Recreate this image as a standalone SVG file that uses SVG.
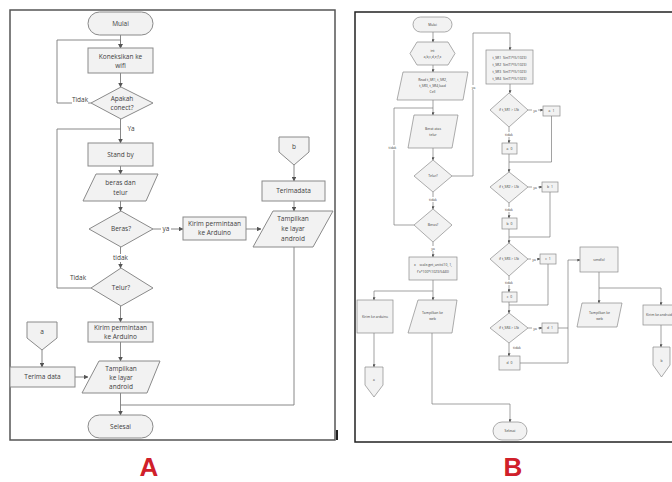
<svg xmlns="http://www.w3.org/2000/svg" width="672" height="482" viewBox="0 0 672 482">
<style>
.n{fill:#f2f2f2;stroke:#8a8a8a;stroke-width:1}
.nb{fill:#f2f2f2;stroke:#8a8a8a;stroke-width:0.7}
.c{fill:none;stroke:#7a7a7a;stroke-width:0.9}
.cb{fill:none;stroke:#7a7a7a;stroke-width:0.7}
.t{font-family:"Open Sans","Liberation Sans",sans-serif;font-size:6.5px;fill:#404040;text-anchor:middle}
.tb{font-family:"Open Sans","Liberation Sans",sans-serif;font-size:3.4px;fill:#404040;text-anchor:middle}
.lb{fill:#fff}
.big{font-family:"Liberation Sans",Arial,sans-serif;font-weight:bold;font-size:26px;fill:#d0202a;text-anchor:middle}
</style>
<defs>
<marker id="a" viewBox="0 0 10 10" refX="9" refY="5" markerWidth="4.5" markerHeight="4.5" markerUnits="userSpaceOnUse" orient="auto"><path d="M0,0 L10,5 L0,10 z" fill="#555"/></marker>
<marker id="ab" viewBox="0 0 10 10" refX="9" refY="5" markerWidth="3" markerHeight="3" markerUnits="userSpaceOnUse" orient="auto"><path d="M0,0 L10,5 L0,10 z" fill="#555"/></marker>
</defs>
<rect width="672" height="482" fill="#fff"/>
<!-- Frames -->
<rect x="10" y="10" width="325" height="430" fill="none" stroke="#555" stroke-width="1.5"/>
<rect x="336" y="430" width="2" height="10" fill="#222"/>
<rect x="355" y="12" width="330" height="430" fill="none" stroke="#222" stroke-width="1.5"/>

<!-- Connectors A -->
<g id="connectors-A">
<path class="c" d="M120.5,35 V48" marker-end="url(#a)"/>
<path class="c" d="M91,103 H57 V40 H120.5 V48" marker-end="url(#a)"/>
<path class="c" d="M120.5,73 V87" marker-end="url(#a)"/>
<path class="c" d="M120.5,119 V143" marker-end="url(#a)"/>
<path class="c" d="M91,288 H57 V129 H120.5"/>
<path class="c" d="M120.5,166 V174" marker-end="url(#a)"/>
<path class="c" d="M120.5,201 V211" marker-end="url(#a)"/>
<path class="c" d="M153,229 H183" marker-end="url(#a)"/>
<path class="c" d="M246,229 H261" marker-end="url(#a)"/>
<path class="c" d="M294,165 V181" marker-end="url(#a)"/>
<path class="c" d="M294,201 V211" marker-end="url(#a)"/>
<path class="c" d="M294,247 V405 H120.5"/>
<path class="c" d="M120.5,247 V268" marker-end="url(#a)"/>
<path class="c" d="M120.5,306 V322" marker-end="url(#a)"/>
<path class="c" d="M120.5,342 V361" marker-end="url(#a)"/>
<path class="c" d="M42,350 V367" marker-end="url(#a)"/>
<path class="c" d="M75,377 H88" marker-end="url(#a)"/>
<path class="c" d="M120.5,393 V415" marker-end="url(#a)"/>
<rect class="lb" x="72" y="96" width="16" height="8"/>
<text class="t" x="80" y="102">Tidak</text>
<text class="t" x="131" y="131">Ya</text>
<rect class="lb" x="161" y="225" width="10" height="8"/>
<text class="t" x="166" y="231">ya</text>
<rect class="lb" x="112" y="254" width="17" height="8"/>
<text class="t" x="120.5" y="260">tidak</text>
<text class="t" x="78" y="280">Tidak</text>
</g>

<!-- Nodes A -->
<g id="A-mulai"><rect class="n" x="88" y="12" width="65" height="23" rx="11.5"/><text class="t" x="120.5" y="26">Mulai</text></g>
<g id="A-wifi"><rect class="n" x="88" y="48" width="65" height="25"/><text class="t" x="120.5" y="59">Koneksikan ke</text><text class="t" x="120.5" y="68">wifi</text></g>
<g id="A-conect"><polygon class="n" points="121,87 153,103 121,119 91,103"/><text class="t" x="122" y="101">Apakah</text><text class="t" x="122" y="110">conect?</text></g>
<g id="A-standby"><rect class="n" x="88" y="143" width="65" height="23"/><text class="t" x="120.5" y="157">Stand by</text></g>
<g id="A-input"><polygon class="n" points="96,174 158,174 146,201 83,201"/><text class="t" x="120.5" y="185">beras dan</text><text class="t" x="120.5" y="195">telur</text></g>
<g id="A-beras"><polygon class="n" points="121,211 153,229 121,247 89,229"/><text class="t" x="121" y="231">Beras?</text></g>
<g id="A-kirim1"><rect class="n" x="183" y="217" width="63" height="23"/><text class="t" x="214.5" y="226">Kirim permintaan</text><text class="t" x="214.5" y="235">ke Arduino</text></g>
<g id="A-b"><polygon class="n" points="279,137 309,137 309,152 294,165 279,152"/><text class="t" x="294" y="149">b</text></g>
<g id="A-terimadata"><rect class="n" x="262" y="181" width="63" height="20"/><text class="t" x="293.5" y="193">Terimadata</text></g>
<g id="A-tampil1"><polygon class="n" points="273,211 333,211 313,247 253,247"/><text class="t" x="293" y="221">Tampilkan</text><text class="t" x="293" y="231">ke layar</text><text class="t" x="293" y="241">android</text></g>
<g id="A-telur"><polygon class="n" points="121,268 153,288 121,306 91,288"/><text class="t" x="121" y="290">Telur?</text></g>
<g id="A-kirim2"><rect class="n" x="88" y="322" width="65" height="20"/><text class="t" x="120.5" y="330">Kirim permintaan</text><text class="t" x="120.5" y="339">ke Arduino</text></g>
<g id="A-a"><polygon class="n" points="27,322 57,322 57,338 42,350 27,338"/><text class="t" x="42" y="334">a</text></g>
<g id="A-terima"><rect class="n" x="10" y="367" width="65" height="20"/><text class="t" x="42.5" y="379">Terima data</text></g>
<g id="A-tampil2"><polygon class="n" points="99,361 160,361 147,393 82,393"/><text class="t" x="121" y="371">Tampilkan</text><text class="t" x="121" y="380">ke layar</text><text class="t" x="121" y="389">android</text></g>
<g id="A-selesai"><rect class="n" x="88" y="415" width="65" height="23" rx="11.5"/><text class="t" x="120.5" y="429">Selesai</text></g>
<text class="big" x="149" y="476">A</text>

<!-- Connectors B -->
<g id="connectors-B">
<path class="cb" d="M433,32 V42" marker-end="url(#ab)"/>
<path class="cb" d="M433,65 V72" marker-end="url(#ab)"/>
<path class="cb" d="M433,100 V115" marker-end="url(#ab)"/>
<path class="cb" d="M414,225 H394 V108 H433"/>
<path class="cb" d="M433,148 V160" marker-end="url(#ab)"/>
<path class="cb" d="M452,176 H473 V33 H510 V50" marker-end="url(#ab)"/>
<path class="cb" d="M433,192 V209" marker-end="url(#ab)"/>
<path class="cb" d="M433,242 V257" marker-end="url(#ab)"/>
<path class="cb" d="M433,280 V300" marker-end="url(#ab)"/>
<path class="cb" d="M433,291 H374 V300" marker-end="url(#ab)"/>
<path class="cb" d="M374,333 V367" marker-end="url(#ab)"/>
<path class="cb" d="M432,333 V404 H510 V422" marker-end="url(#ab)"/>
<path class="cb" d="M510,84 V93" marker-end="url(#ab)"/>
<path class="cb" d="M528,110 H543" marker-end="url(#ab)"/>
<path class="cb" d="M509,127 V143" marker-end="url(#ab)"/>
<path class="cb" d="M509,154 V172" marker-end="url(#ab)"/>
<path class="cb" d="M551.5,116 V162 H509"/>
<path class="cb" d="M528,187 H542" marker-end="url(#ab)"/>
<path class="cb" d="M509,203 V218" marker-end="url(#ab)"/>
<path class="cb" d="M509,229 V243" marker-end="url(#ab)"/>
<path class="cb" d="M550,192 V237 H509"/>
<path class="cb" d="M528,259 H540" marker-end="url(#ab)"/>
<path class="cb" d="M509,276 V292" marker-end="url(#ab)"/>
<path class="cb" d="M509,302 V313" marker-end="url(#ab)"/>
<path class="cb" d="M548,264 V305 H509"/>
<path class="cb" d="M528,328 H542" marker-end="url(#ab)"/>
<path class="cb" d="M509,343 V356" marker-end="url(#ab)"/>
<path class="cb" d="M558,328 H568"/>
<path class="cb" d="M520,363 H568 V260 H580" marker-end="url(#ab)"/>
<path class="cb" d="M599,272 V303" marker-end="url(#ab)"/>
<path class="cb" d="M599,288 H661 V305" marker-end="url(#ab)"/>
<path class="cb" d="M661,325 V347" marker-end="url(#ab)"/>
<rect class="lb" x="388" y="145" width="9" height="5"/>
<text class="tb" x="392.5" y="149">tidak</text>
<rect class="lb" x="470" y="85" width="7" height="5"/>
<text class="tb" x="473.5" y="89">ya</text>
<rect class="lb" x="428" y="197" width="10" height="5"/>
<text class="tb" x="433" y="201">tidak</text>
<rect class="lb" x="430" y="246" width="6" height="5"/>
<text class="tb" x="433" y="250">ya</text>
<rect class="lb" x="532" y="107.5" width="6" height="5"/>
<text class="tb" x="535" y="111.5">ya</text>
<rect class="lb" x="504" y="132" width="10" height="5"/>
<text class="tb" x="509" y="136">tidak</text>
<rect class="lb" x="532" y="184.5" width="6" height="5"/>
<text class="tb" x="535" y="188.5">ya</text>
<rect class="lb" x="504" y="207" width="10" height="5"/>
<text class="tb" x="509" y="211">tidak</text>
<rect class="lb" x="531" y="256.5" width="6" height="5"/>
<text class="tb" x="534" y="260.5">ya</text>
<rect class="lb" x="504" y="280" width="10" height="5"/>
<text class="tb" x="509" y="284">tidak</text>
<rect class="lb" x="532" y="325.5" width="6" height="5"/>
<text class="tb" x="535" y="329.5">ya</text>
<text class="tb" x="517" y="349">tidak</text>
</g>

<!-- Nodes B -->
<g id="B-mulai"><rect class="nb" x="413" y="17" width="39" height="15" rx="7.5"/><text class="tb" x="432.5" y="25.5">Mulai</text></g>
<g id="B-int"><polygon class="nb" points="410,53.5 417,42 448,42 455,53.5 448,65 417,65"/><text class="tb" x="432.5" y="51.5">int</text><text class="tb" x="432.5" y="58">a,b,c,d,e,f,x</text></g>
<g id="B-read"><polygon class="nb" points="403,72 468,72 463,100 397,100"/><text class="tb" x="432.5" y="80.5">Read t_SR1, t_SR2,</text><text class="tb" x="432.5" y="86.5">t_SR3, t_SR4,load</text><text class="tb" x="432.5" y="92.5">Cell</text></g>
<g id="B-berat"><polygon class="nb" points="414,115 458,115 452,148 408,148"/><text class="tb" x="433" y="129.5">Berat atas</text><text class="tb" x="433" y="135.5">telur</text></g>
<g id="B-telur"><polygon class="nb" points="433,160 452,176 433,192 414,176"/><text class="tb" x="433" y="177">Telur?</text></g>
<g id="B-beras"><polygon class="nb" points="433,209 452,225 433,242 414,225"/><text class="tb" x="433" y="226">Beras?</text></g>
<g id="B-x"><rect class="nb" x="409" y="257" width="48" height="23"/><text class="tb" x="433" y="266">x = scale.get_units(10, 1,</text><text class="tb" x="433" y="273">f'x*100*(1023/5440)</text></g>
<g id="B-kirim-arduino"><rect class="nb" x="357" y="300" width="36" height="33"/><text class="tb" x="375" y="318">Kirim ke arduino</text></g>
<g id="B-tampil1"><polygon class="nb" points="418,300 457,300 452,333 408,333"/><text class="tb" x="432.5" y="314">Tampilkan ke</text><text class="tb" x="432.5" y="320">web</text></g>
<g id="B-a"><polygon class="nb" points="365,367 383,367 383,385 374,397 365,385"/><text class="tb" x="374" y="381">a</text></g>
<g id="B-selesai"><rect class="nb" x="493" y="422" width="34" height="18" rx="9"/><text class="tb" x="510" y="432">Selesai</text></g>
<g id="B-tsr"><rect class="nb" x="486" y="50" width="47" height="34"/><text class="tb" x="509.5" y="59">t_SR1=Sin(T)*(5/1023)</text><text class="tb" x="509.5" y="66">t_SR2=Sin(T)*(5/1023)</text><text class="tb" x="509.5" y="73">t_SR3=Sin(T)*(5/1023)</text><text class="tb" x="509.5" y="80">t_SR4=Sin(T)*(5/1023)</text></g>
<g id="B-d1"><polygon class="nb" points="509,93 528,110 509,127 490,110"/><text class="tb" x="509" y="111.2">if t_SR1 &gt; LSt</text></g>
<g id="B-a1"><rect class="nb" x="543" y="106" width="17" height="10"/><text class="tb" x="551.5" y="112.2">a=1</text></g>
<g id="B-a0"><rect class="nb" x="502" y="143" width="15" height="11"/><text class="tb" x="509.5" y="149.7">a=0</text></g>
<g id="B-d2"><polygon class="nb" points="509,172 528,187 509,203 490,187"/><text class="tb" x="509" y="188.2">if t_SR2 &gt; LSt</text></g>
<g id="B-b1"><rect class="nb" x="542" y="182" width="16" height="10"/><text class="tb" x="550" y="188.2">b=1</text></g>
<g id="B-b0"><rect class="nb" x="502" y="218" width="15" height="11"/><text class="tb" x="509.5" y="224.7">b=0</text></g>
<g id="B-d3"><polygon class="nb" points="509,243 528,259 509,276 490,259"/><text class="tb" x="509" y="260.2">if t_SR3 &gt; LSt</text></g>
<g id="B-c1"><rect class="nb" x="540" y="254" width="16" height="10"/><text class="tb" x="548" y="260.2">c=1</text></g>
<g id="B-c0"><rect class="nb" x="502" y="292" width="15" height="10"/><text class="tb" x="509.5" y="298.2">c=0</text></g>
<g id="B-d4"><polygon class="nb" points="509,313 528,328 509,343 490,328"/><text class="tb" x="509" y="329.2">if t_SR4 &gt; LSt</text></g>
<g id="B-d1b"><rect class="nb" x="542" y="323" width="16" height="10"/><text class="tb" x="550" y="329.2">d=1</text></g>
<g id="B-d0"><rect class="nb" x="499" y="356" width="21" height="14"/><text class="tb" x="509.5" y="364.2">d=0</text></g>
<g id="B-send"><rect class="nb" x="580" y="247" width="38" height="25"/><text class="tb" x="599" y="260.7">send(x)</text></g>
<g id="B-tampil2"><polygon class="nb" points="582,303 622,303 617,327 577,327"/><text class="tb" x="599.5" y="314">Tampilkan ke</text><text class="tb" x="599.5" y="320">web</text></g>
<g id="B-kirim-android"><rect class="nb" x="643" y="305" width="40" height="20"/><text class="tb" x="646" y="316" style="text-anchor:start">Kirim ke android</text></g>
<g id="B-b"><polygon class="nb" points="653,347 670,347 670,365 661.5,377 653,365"/><text class="tb" x="661.5" y="362">b</text></g>
<text class="big" x="513" y="476">B</text>
</svg>
